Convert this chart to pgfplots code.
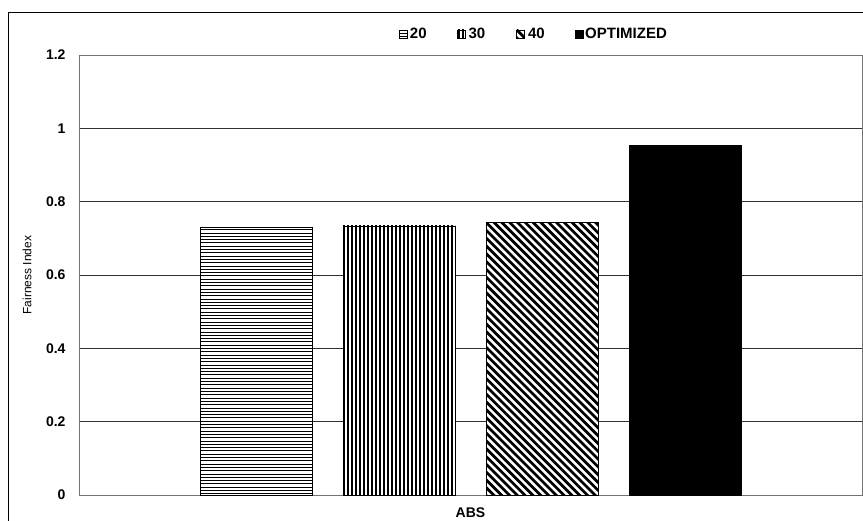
\documentclass[border=0pt]{standalone}
\usepackage{fontspec}
\setmainfont{Liberation Sans}
\usepackage{pgfplots}
\pgfplotsset{compat=1.18}
\newcommand\hatchline[5]{% lw, anchor, x0, y0, direction
  \pgfsetlinewidth{#1}\pgfsetstrokecolor{black}%
  \pgfpathmoveto{\pgfpointadd{\pgfpointanchor{path picture bounding box}{#2}}{\pgfpoint{#3}{#4}}}%
  \pgfpathlineto{\pgfpointadd{\pgfpointanchor{path picture bounding box}{#2}}{\pgfpointadd{\pgfpoint{#3}{#4}}{#5}}}%
  \pgfusepath{stroke}}
\tikzset{
  hhatch/.style={path picture={
    \foreach \k in {0,...,100}{\hatchline{1pt}{south west}{0pt}{\k*3.3pt+1.2pt}{\pgfpoint{400pt}{0pt}}}}},
  vhatch/.style={path picture={
    \foreach \k in {0,...,40}{\hatchline{2pt}{south west}{\k*4pt+1pt}{0pt}{\pgfpoint{0pt}{600pt}}}}},
  dhatch/.style={path picture={
    \foreach \k in {-50,...,20}{\hatchline{2.7pt}{north west}{\k*7.8pt}{0pt}{\pgfpoint{500pt}{-500pt}}}}},
}
\begin{document}
\begin{tikzpicture}[x=1pt,y=1pt]
\begin{axis}[
  at={(79pt,25pt)}, anchor=south west,
  scale only axis, width=783pt, height=440pt,
  ybar=31pt, bar width=112pt,
  xmin=-1, xmax=1, ymin=0, ymax=1.2,
  xtick={0}, xticklabels={ABS},
  ytick={0,0.2,0.4,0.6,0.8,1,1.2},
  yticklabels={0,0.2,0.4,0.6,0.8,1,1.2},
  major tick length=0pt,
  ymajorgrids, grid style={draw=black!80, line width=0.6pt},
  axis line style={draw=black!55, line width=0.8pt},
  ticklabel style={font=\bfseries\fontsize{14}{16}\selectfont},
  yticklabel style={xshift=-10pt},
  xticklabel style={yshift=-9pt},
  ylabel={Fairness Index},
  ylabel style={font=\fontsize{12}{14}\selectfont, at={(axis description cs:-0.0664,0.5)}, anchor=center},
  legend columns=4,
  legend style={draw=none, fill=none, font=\bfseries\fontsize{15}{17}\selectfont,
    at={(0.581,1)}, anchor=south, yshift=11pt,
    /tikz/every even column/.append style={column sep=28pt}},
  legend image code/.code={\draw[#1, line width=0.5pt] (0pt,-4pt) rectangle (8pt,4pt);},
]
\addplot[draw=black, line width=0.6pt, fill=white, hhatch] coordinates {(0,0.730)};
\addplot[draw=black, line width=0.6pt, fill=white, vhatch] coordinates {(0,0.734)};
\addplot[draw=black, line width=0.6pt, fill=white, dhatch] coordinates {(0,0.744)};
\addplot[draw=black, line width=0.6pt, fill=black] coordinates {(0,0.955)};
\legend{20,30,40,OPTIMIZED}
\end{axis}
\draw[black, line width=1pt] (8,-10) -- (8,507) -- (880,507);
\pgfresetboundingbox
\useasboundingbox (0,0) rectangle (863,520);
\end{tikzpicture}
\end{document}
